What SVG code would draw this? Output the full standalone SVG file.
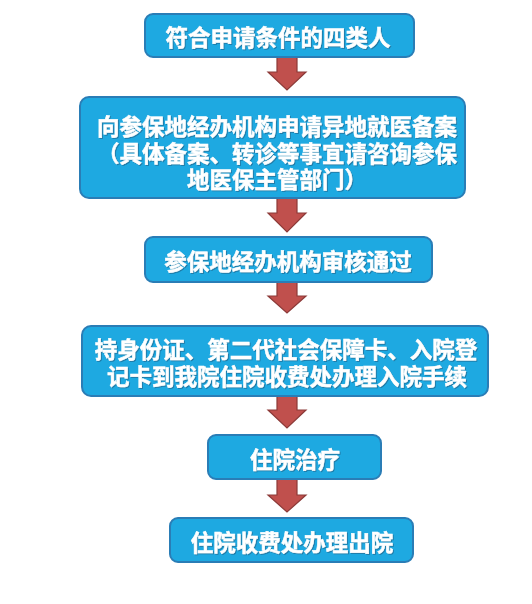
<svg xmlns="http://www.w3.org/2000/svg" width="532" height="604" viewBox="0 0 532 604">
<defs>
<style>
.box{fill:#1ea9e1;stroke:#2a7db6;stroke-width:2}
.t{font-family:"Noto Sans CJK SC","Noto Sans",sans-serif;font-weight:bold;font-size:22.5px;fill:#ffffff;stroke:#ffffff;stroke-width:0.5;text-anchor:middle;dominant-baseline:central}
.arr{fill:#c0504d;stroke:#8c3a38;stroke-width:1.2}
</style>
<filter id="sh" x="-10%" y="-10%" width="120%" height="130%">
<feDropShadow dx="1" dy="1" stdDeviation="0.6" flood-color="#1a4a6a" flood-opacity="0.5"/>
</filter>
</defs>
<rect width="532" height="604" fill="#ffffff"/>
<g id="connectors">
<polygon class="arr" points="277,57 297,57 297,72 306,72 287,90 268,72 277,72"/>
<polygon class="arr" points="277,198 297,198 297,213 306,213 287,232 268,213 277,213"/>
<polygon class="arr" points="277,282 297,282 297,296 306,296 287,313 268,296 277,296"/>
<polygon class="arr" points="277,396 297,396 297,410 306,410 287,428 268,410 277,410"/>
<polygon class="arr" points="277,479 297,479 297,495 306,495 287,512 268,495 277,495"/>
</g>
<g id="n1">
<rect class="box" x="145" y="14" width="269" height="43" rx="8"/>
<text class="t" x="278" y="36" filter="url(#sh)">符合申请条件的四类人</text>
</g>
<g id="n2">
<rect class="box" x="80" y="97" width="385" height="101" rx="9"/>
<text class="t" x="277" y="125" filter="url(#sh)">向参保地经办机构申请异地就医备案</text>
<text class="t" x="277" y="152" filter="url(#sh)">（具体备案、转诊等事宜请咨询参保</text>
<text class="t" x="277" y="178" filter="url(#sh)">地医保主管部门）</text>
</g>
<g id="n3">
<rect class="box" x="145" y="237" width="287" height="45" rx="8"/>
<text class="t" x="288" y="260" filter="url(#sh)">参保地经办机构审核通过</text>
</g>
<g id="n4">
<rect class="box" x="82" y="326" width="406" height="70" rx="9"/>
<text class="t" x="286" y="348" filter="url(#sh)">持身份证、第二代社会保障卡、入院登</text>
<text class="t" x="287" y="375" filter="url(#sh)">记卡到我院住院收费处办理入院手续</text>
</g>
<g id="n5">
<rect class="box" x="208" y="435" width="173" height="44" rx="8"/>
<text class="t" x="295" y="458" filter="url(#sh)">住院治疗</text>
</g>
<g id="n6">
<rect class="box" x="170" y="518" width="243" height="44" rx="8"/>
<text class="t" x="292" y="541" filter="url(#sh)">住院收费处办理出院</text>
</g>
</svg>
